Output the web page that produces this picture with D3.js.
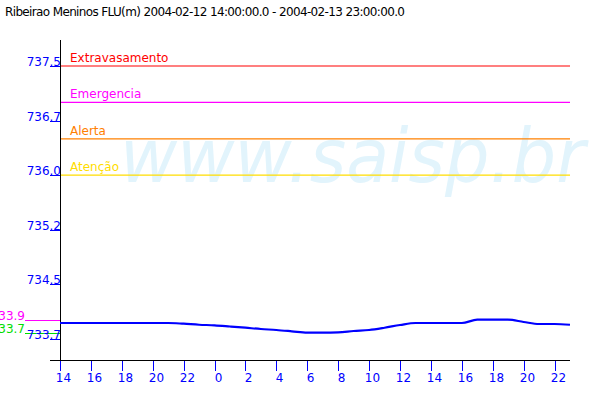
<!DOCTYPE html>
<html><head><meta charset="utf-8">
<script src="https://cdn.jsdelivr.net/npm/d3@7"></script>
<style>body{margin:0;background:#fff}svg text{font-family:"DejaVu Sans",sans-serif}</style>
</head><body>
<svg id="c" width="600" height="400"></svg>
<script>
const title = "Ribeirao Meninos FLU(m) 2004-02-12 14:00:00.0 - 2004-02-13 23:00:00.0";
// hours since 2004-02-12 14:00
const hours = d3.range(0, 34);
const levels = [733.970,733.970,733.970,733.970,733.970,733.970,733.970,733.970,733.960,733.946,
  733.938,733.922,733.905,733.887,733.874,733.856,733.837,733.837,733.840,733.860,
  733.874,733.905,733.942,733.970,733.970,733.970,733.970,734.015,734.015,734.015,
  733.984,733.956,733.956,733.946];
const yTicks = [733.75, 734.5, 735.25, 736.0, 736.75, 737.5];
const yTickLabels = ["733.7","734.5","735.2","736.0","736.7","737.5"];
const xTickHours = d3.range(0, 33, 2);
const xTickLabels = ["14","16","18","20","22","0","2","4","6","8","10","12","14","16","18","20","22"];
const thresholds = [
  {name:"Extravasamento", value:737.5, color:"#ff0000"},
  {name:"Emergencia", value:737.0, color:"#ff00ff"},
  {name:"Alerta", value:736.5, color:"#ff8000"},
  {name:"Atenção", value:736.0, color:"#ffdd00"}
];
const extremes = [
  {label:"733.9", value:734.015, color:"#ff00ff"},
  {label:"733.7", value:733.837, color:"#00dd00"}
];

const svg = d3.select("#c");
const x = d3.scaleLinear().domain([0, 33]).range([60, 570]);
const y = d3.scaleLinear().domain([733.75, 737.5]).range([339, 66]);

svg.append("text").attr("x", 5).attr("y", 16).attr("font-size", 12).attr("fill", "#000")
  .attr("textLength", 400).text(title);

// watermark
svg.append("text").attr("x", 120).attr("y", 182).attr("font-size", 75)
  .attr("font-style", "italic").attr("fill", "#e2f4fc").attr("textLength", 465)
  .attr("lengthAdjust", "spacingAndGlyphs").text("www.saisp.br");

// thresholds
thresholds.forEach(t => {
  svg.append("line").attr("x1", 61).attr("x2", 570).attr("y1", y(t.value)).attr("y2", y(t.value))
    .attr("stroke", t.color).attr("stroke-width", 1.2);
  svg.append("text").attr("x", 70).attr("y", y(t.value) - 4).attr("font-size", 12)
    .attr("fill", t.color).text(t.name);
});

// extremes
extremes.forEach(e => {
  svg.append("line").attr("x1", 25).attr("x2", 60).attr("y1", Math.round(y(e.value)) + 0.5).attr("y2", Math.round(y(e.value)) + 0.5)
    .attr("stroke", e.color).attr("stroke-width", 1);
  svg.append("text").attr("x", 25).attr("y", y(e.value)).attr("text-anchor", "end")
    .attr("font-size", 12).attr("fill", e.color).text(e.label);
});

// axes lines
svg.append("line").attr("x1", 60.5).attr("x2", 60.5).attr("y1", 40).attr("y2", 360).attr("stroke", "#000");
svg.append("line").attr("x1", 50).attr("x2", 570).attr("y1", 360.5).attr("y2", 360.5).attr("stroke", "#000");

// y ticks
yTicks.forEach((v, i) => {
  const yy = Math.round(y(v)) + 0.5;
  svg.append("line").attr("x1", 50).attr("x2", 60).attr("y1", yy).attr("y2", yy).attr("stroke", "#0000ff");
  svg.append("text").attr("x", 61).attr("y", yy - 0.5).attr("text-anchor", "end")
    .attr("font-size", 12).attr("fill", "#0000ff").text(yTickLabels[i]);
});

// x ticks
xTickHours.forEach((h, i) => {
  const xx = Math.round(x(h)) + 0.5;
  svg.append("line").attr("x1", xx).attr("x2", xx).attr("y1", 361).attr("y2", 371).attr("stroke", "#0000ff");
  svg.append("text").attr("x", xx + 3).attr("y", 382).attr("text-anchor", "middle")
    .attr("font-size", 12).attr("fill", "#0000ff").text(xTickLabels[i]);
});

// data line
const line = d3.line().x((d, i) => x(hours[i])).y(d => y(d)).curve(d3.curveMonotoneX);
svg.append("path").datum(levels).attr("d", line).attr("fill", "none")
  .attr("stroke", "#0000ff").attr("stroke-width", 2.2);
</script>
</body></html>
